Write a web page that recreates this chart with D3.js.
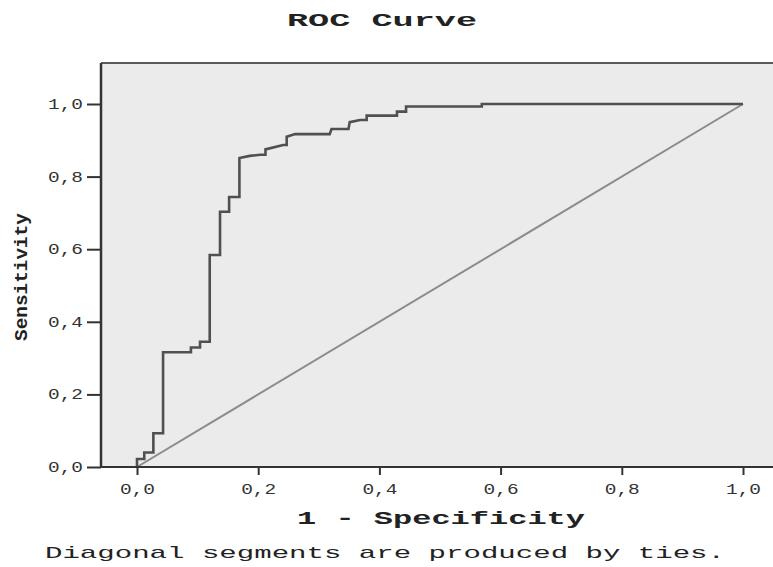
<!DOCTYPE html>
<html>
<head>
<meta charset="utf-8">
<script src="https://cdn.jsdelivr.net/npm/d3@7"></script>
<style>
  body { margin: 0; background: #fff; }
  svg { display: block; }
</style>
</head>
<body>
<div id="roc-chart"></div>
<script>
// ROC curve points
const fpr = [0, 0, 0.012, 0.012, 0.027, 0.027, 0.043, 0.043, 0.089, 0.089, 0.104, 0.104, 0.12, 0.12,
  0.137, 0.137, 0.152, 0.152, 0.169, 0.169, 0.186, 0.203, 0.212, 0.212, 0.241, 0.247, 0.247, 0.261,
  0.318, 0.321, 0.349, 0.351, 0.368, 0.379, 0.379, 0.429, 0.429, 0.444, 0.444, 0.569, 0.569, 1];
const tpr = [0, 0.022, 0.022, 0.04, 0.04, 0.093, 0.093, 0.316, 0.316, 0.329, 0.329, 0.345, 0.345, 0.584,
  0.584, 0.703, 0.703, 0.744, 0.744, 0.851, 0.857, 0.86, 0.86, 0.875, 0.887, 0.887, 0.91, 0.917,
  0.917, 0.931, 0.931, 0.95, 0.956, 0.956, 0.968, 0.968, 0.979, 0.979, 0.993, 0.993, 1, 1];
const diagonal = [0, 1];
const tickValues = [0, 0.2, 0.4, 0.6, 0.8, 1.0];
const tickLabels = ['0,0', '0,2', '0,4', '0,6', '0,8', '1,0'];

const width = 773;
const height = 567;
const mono = '"Liberation Mono", "Courier New", monospace';

const svg = d3.select('#roc-chart').append('svg')
    .attr('width', width)
    .attr('height', height);

const x = d3.scaleLinear().domain([0, 1]).range([137, 743]);
const y = d3.scaleLinear().domain([0, 1]).range([467, 104]);

const plotLeft = 101, plotTop = 63, plotBottom = 467, plotRight = 780;

// Panel
svg.append('rect')
    .attr('x', plotLeft)
    .attr('y', plotTop)
    .attr('width', plotRight - plotLeft)
    .attr('height', plotBottom - plotTop)
    .attr('fill', '#ebebeb');

svg.append('line')
    .attr('x1', plotLeft).attr('x2', plotRight)
    .attr('y1', plotTop).attr('y2', plotTop)
    .attr('stroke', '#5a5a5a').attr('stroke-width', 2);

// Reference diagonal
svg.append('line')
    .attr('x1', x(diagonal[0])).attr('y1', y(diagonal[0]))
    .attr('x2', x(diagonal[1])).attr('y2', y(diagonal[1]))
    .attr('stroke', '#8c8c8c')
    .attr('stroke-width', 2);

// ROC curve
const points = fpr.map((d, i) => [d, tpr[i]]);
svg.append('path')
    .datum(points)
    .attr('fill', 'none')
    .attr('stroke', '#505050')
    .attr('stroke-width', 2.6)
    .attr('stroke-linejoin', 'miter')
    .attr('d', d3.line().x(d => x(d[0])).y(d => y(d[1])));

// Axes
const fmt = d => tickLabels[tickValues.indexOf(d)];

const xAxis = svg.append('g')
    .attr('transform', `translate(0,${plotBottom})`)
    .call(d3.axisBottom(x).tickValues(tickValues).tickFormat(fmt).tickSize(8).tickPadding(9));
xAxis.select('.domain').remove();

const yAxis = svg.append('g')
    .attr('transform', `translate(${plotLeft},0)`)
    .call(d3.axisLeft(y).tickValues(tickValues).tickFormat(fmt).tickSize(14).tickPadding(4));
yAxis.select('.domain').remove();

svg.selectAll('.tick line').attr('stroke', '#333').attr('stroke-width', 2);
svg.selectAll('.tick text')
    .attr('fill', '#333')
    .style('font-family', mono)
    .style('font-size', '14px')
    .attr('textLength', 35)
    .attr('lengthAdjust', 'spacingAndGlyphs');

svg.append('line')
    .attr('x1', plotLeft).attr('x2', plotRight)
    .attr('y1', plotBottom).attr('y2', plotBottom)
    .attr('stroke', '#333').attr('stroke-width', 2);
svg.append('line')
    .attr('x1', plotLeft).attr('x2', plotLeft)
    .attr('y1', plotTop).attr('y2', plotBottom)
    .attr('stroke', '#333').attr('stroke-width', 2.5);

// Title
svg.append('text')
    .text('ROC Curve')
    .attr('x', 382)
    .attr('y', 26)
    .attr('text-anchor', 'middle')
    .attr('textLength', 190)
    .attr('lengthAdjust', 'spacingAndGlyphs')
    .style('font-family', mono)
    .style('font-weight', 'bold')
    .style('font-size', '19px')
    .attr('fill', '#222');

// Axis labels
svg.append('text')
    .text('1 - Specificity')
    .attr('x', 441)
    .attr('y', 524)
    .attr('text-anchor', 'middle')
    .attr('textLength', 288)
    .attr('lengthAdjust', 'spacingAndGlyphs')
    .style('font-family', mono)
    .style('font-weight', 'bold')
    .style('font-size', '18px')
    .attr('fill', '#222');

svg.append('text')
    .text('Sensitivity')
    .attr('transform', 'translate(27,277) rotate(-90)')
    .attr('text-anchor', 'middle')
    .attr('textLength', 128)
    .attr('lengthAdjust', 'spacingAndGlyphs')
    .style('font-family', mono)
    .style('font-weight', 'bold')
    .style('font-size', '19px')
    .attr('fill', '#222');

// Footnote
svg.append('text')
    .text('Diagonal segments are produced by ties.')
    .attr('x', 45)
    .attr('y', 558)
    .attr('textLength', 680)
    .attr('lengthAdjust', 'spacingAndGlyphs')
    .style('font-family', mono)
    .style('font-size', '17px')
    .attr('fill', '#222');
</script>
</body>
</html>
